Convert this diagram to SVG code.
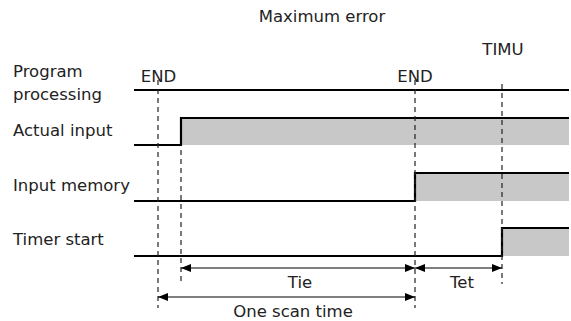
<svg xmlns="http://www.w3.org/2000/svg" width="571" height="321" viewBox="0 0 571 321">
<style>
text{font-family:"DejaVu Sans","Verdana",sans-serif;font-size:16.5px;fill:#222}
.sig{fill:none;stroke:#000;stroke-width:2.2}
.fill{fill:#c8c8c8;stroke:none}
.dash{fill:none;stroke:#222;stroke-width:1.2;stroke-dasharray:5 4}
.arr{fill:none;stroke:#000;stroke-width:1.2}
.mid{text-anchor:middle}
</style>
<defs>
<marker id="ah" viewBox="0 0 10 10" refX="10" refY="5" markerWidth="10" markerHeight="10" markerUnits="userSpaceOnUse" orient="auto-start-reverse">
<path d="M0,1 L10,5 L0,9 Z" fill="#000"/>
</marker>
</defs>
<text class="mid" x="322" y="22">Maximum error</text>
<g id="labels">
<text x="13" y="77">Program</text>
<text x="13" y="100">processing</text>
<text x="13" y="136">Actual input</text>
<text x="13" y="191">Input memory</text>
<text x="13" y="245">Timer start</text>
<text class="mid" x="158.5" y="82">END</text>
<text class="mid" x="415" y="82">END</text>
<text class="mid" x="503" y="55">TIMU</text>
</g>
<g id="program-processing">
<line class="sig" x1="134" y1="90" x2="569" y2="90"/>
</g>
<g id="actual-input">
<rect class="fill" x="181" y="118" width="388" height="27"/>
<polyline class="sig" points="134,145 181,145 181,118 569,118"/>
</g>
<g id="input-memory">
<rect class="fill" x="415" y="173" width="154" height="28"/>
<polyline class="sig" points="134,201 415,201 415,173 569,173"/>
</g>
<g id="timer-start">
<rect class="fill" x="502" y="228" width="67" height="28"/>
<polyline class="sig" points="134,256 502,256 502,228 569,228"/>
</g>
<g id="connectors">
<line class="dash" x1="158" y1="80" x2="158" y2="308"/>
<line class="dash" x1="181" y1="150" x2="181" y2="283"/>
<line class="dash" x1="415" y1="80" x2="415" y2="308"/>
<line class="dash" x1="502" y1="84" x2="502" y2="284"/>
<line class="arr" x1="181" y1="268" x2="415" y2="268" marker-start="url(#ah)" marker-end="url(#ah)"/>
<line class="arr" x1="415" y1="268" x2="502" y2="268" marker-start="url(#ah)" marker-end="url(#ah)"/>
<line class="arr" x1="158" y1="297" x2="415" y2="297" marker-start="url(#ah)" marker-end="url(#ah)"/>
</g>
<g id="arrow-labels">
<text class="mid" x="300" y="288">Tie</text>
<text class="mid" x="462" y="288">Tet</text>
<text class="mid" x="293" y="317">One scan time</text>
</g>
</svg>
